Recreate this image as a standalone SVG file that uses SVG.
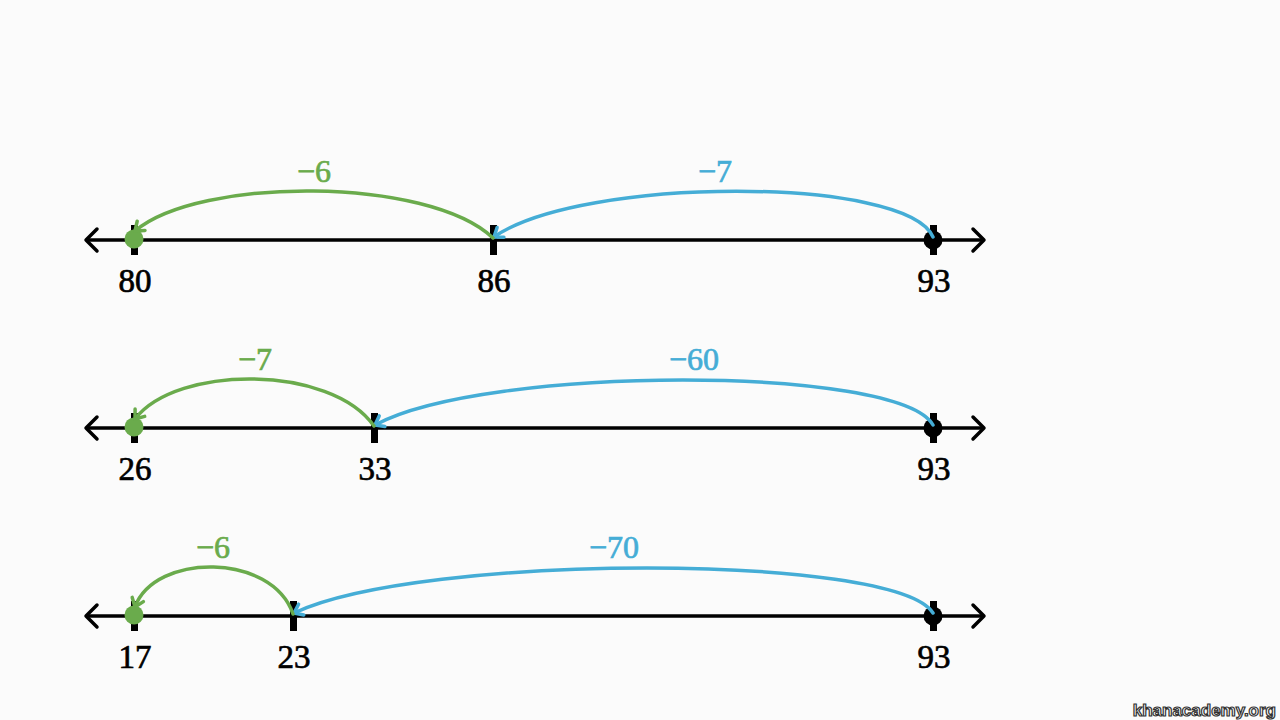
<svg xmlns="http://www.w3.org/2000/svg" width="1280" height="720" viewBox="0 0 1280 720" font-family="Liberation Serif, serif">
<style>
.axis{stroke:#000;stroke-width:3.5;fill:none}
.chev{stroke:#000;stroke-width:3.5;fill:none;stroke-linecap:round;stroke-linejoin:round}
.tick{fill:#000}
.num{font-family:'Liberation Serif',serif;font-size:33px;fill:#000;stroke:#000;stroke-width:0.7;text-anchor:middle}
.g{stroke:#6aab4c;stroke-width:3.5;fill:none;stroke-linecap:round;stroke-linejoin:round}
.b{stroke:#45add6;stroke-width:3.5;fill:none;stroke-linecap:round;stroke-linejoin:round}
.gl{font-family:'Liberation Serif',serif;font-size:32px;fill:#6aab4c;stroke:#6aab4c;stroke-width:0.7;text-anchor:middle}
.bl{font-family:'Liberation Serif',serif;font-size:32px;fill:#45add6;stroke:#45add6;stroke-width:0.7;text-anchor:middle}
.wm{font-family:'Liberation Sans',sans-serif;font-size:17px;font-weight:bold;fill:#fff;stroke:#333;stroke-width:1.2;text-anchor:end}
</style>
<rect width="1280" height="720" fill="#fbfbfb"/>
<g id="axis1">
<line class="axis" x1="87" y1="240" x2="983" y2="240"/>
<path class="chev" d="M97,229 L86,240 L97,251"/>
<path class="chev" d="M973,229 L984,240 L973,251"/>
</g>
<g id="n80"><rect class="tick" x="131" y="225" width="7" height="30"/><circle cx="134" cy="239" r="9.5" fill="#6aab4c"/><text class="num" x="135" y="292">80</text></g>
<g id="n86"><rect class="tick" x="490" y="225" width="7" height="30"/><text class="num" x="494" y="292">86</text></g>
<g id="n93a"><rect class="tick" x="930" y="225" width="7" height="30"/><circle cx="933" cy="240" r="9.5" fill="#000"/><text class="num" x="934" y="292">93</text></g>
<g id="axis2">
<line class="axis" x1="87" y1="428" x2="983" y2="428"/>
<path class="chev" d="M97,417 L86,428 L97,439"/>
<path class="chev" d="M973,417 L984,428 L973,439"/>
</g>
<g id="n26"><rect class="tick" x="131" y="413" width="7" height="30"/><circle cx="134" cy="427" r="9.5" fill="#6aab4c"/><text class="num" x="135" y="480">26</text></g>
<g id="n33"><rect class="tick" x="371" y="413" width="7" height="30"/><text class="num" x="375" y="480">33</text></g>
<g id="n93b"><rect class="tick" x="930" y="413" width="7" height="30"/><circle cx="933" cy="428" r="9.5" fill="#000"/><text class="num" x="934" y="480">93</text></g>
<g id="axis3">
<line class="axis" x1="87" y1="616" x2="983" y2="616"/>
<path class="chev" d="M97,605 L86,616 L97,627"/>
<path class="chev" d="M973,605 L984,616 L973,627"/>
</g>
<g id="n17"><rect class="tick" x="131" y="601" width="7" height="30"/><circle cx="134" cy="615" r="9.5" fill="#6aab4c"/><text class="num" x="135" y="668">17</text></g>
<g id="n23"><rect class="tick" x="290" y="601" width="7" height="30"/><text class="num" x="294" y="668">23</text></g>
<g id="n93c"><rect class="tick" x="930" y="601" width="7" height="30"/><circle cx="933" cy="616" r="9.5" fill="#000"/><text class="num" x="934" y="668">93</text></g>
<g id="connectors">
<path class="b" d="M933,237 C907,176 581,176 494,237"/>
<path class="b" d="M497.1,227.5 L494,237 L503.9,237.3"/>
<path class="g" d="M493,238 C428,176.5 199,176.5 135,231"/>
<path class="g" d="M137.2,221.2 L135,231 L145,230.4"/>
<text class="gl" x="314" y="182">−6</text>
<text class="bl" x="715" y="182">−7</text>
<path class="b" d="M933,425 C899,365 486,365 375,425"/>
<path class="b" d="M379.2,415.9 L375,425 L384.9,426.5"/>
<path class="g" d="M374,426 C331,364.5 177,364.5 135,419"/>
<path class="g" d="M135.1,409 L135,419 L144.7,416.4"/>
<text class="gl" x="255" y="370">−7</text>
<text class="bl" x="694" y="370">−60</text>
<path class="b" d="M933,613 C895,553 421,553 294,613"/>
<path class="b" d="M298.6,604.2 L294,613 L303.8,615"/>
<path class="g" d="M293,614 C272,552.5 155,552.5 135,607"/>
<path class="g" d="M132.2,597.4 L135,607 L143.4,601.6"/>
<text class="gl" x="213" y="558">−6</text>
<text class="bl" x="614" y="558">−70</text>
</g>
<text class="wm" x="1276" y="716">khanacademy.org</text>
</svg>
